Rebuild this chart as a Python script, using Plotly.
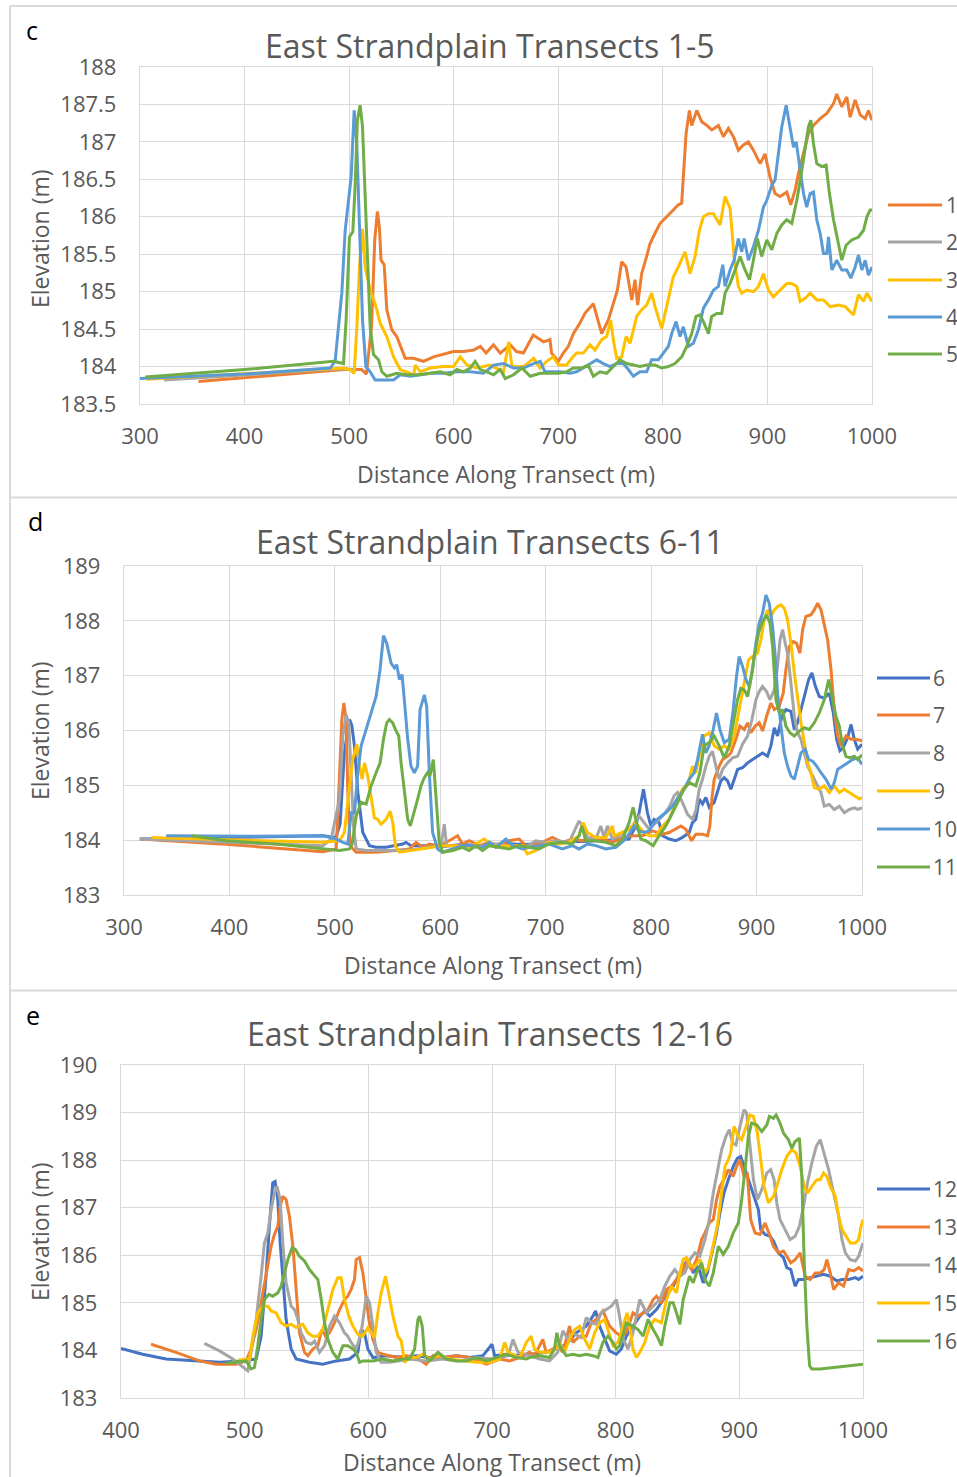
import plotly.graph_objects as go

# ---------------- data: panel c (transects 1-5) ----------------
t1_x = [356, 420, 495, 512, 516.5, 521.5, 524.5, 527, 529, 530.5, 533.5, 536, 540.8, 545.6, 549.4, 553.6, 561.6, 571, 580.7, 590, 599.8, 609.4, 619, 625.4, 631, 638, 644.5, 654, 660, 666.7, 676, 685.9, 692, 693.6, 700, 704.8, 709.6, 714.4, 720.7, 725.5, 733.5, 741.5, 747.8, 752.6, 756.5, 760.6, 764.8, 770.3, 773.4, 775.9, 779.7, 784.5, 787.7, 792.5, 797.3, 803.7, 810, 814.8, 818, 820.3, 822.2, 825.4, 827.6, 832.4, 837.2, 842, 846.8, 853.1, 857.9, 862.7, 867.5, 872.2, 877, 881.8, 886.6, 893, 897.7, 902.5, 907.3, 912.1, 918.5, 922.3, 926.5, 929.7, 934.4, 939.2, 944, 950.4, 956.8, 963.2, 966.3, 971.1, 975.9, 979.1, 983.9, 988.7, 993.5, 996.6, 1000]
t1_y = [183.80, 183.87, 183.96, 183.96, 183.90, 184.55, 185.70, 186.07, 185.85, 185.42, 185.36, 184.76, 184.49, 184.40, 184.27, 184.11, 184.11, 184.07, 184.13, 184.16, 184.20, 184.20, 184.22, 184.27, 184.18, 184.29, 184.18, 184.29, 184.20, 184.18, 184.42, 184.33, 184.36, 184.18, 184.07, 184.18, 184.27, 184.44, 184.58, 184.71, 184.84, 184.44, 184.62, 184.84, 185.02, 185.40, 185.33, 184.89, 185.16, 184.82, 185.24, 185.47, 185.64, 185.78, 185.91, 186.00, 186.09, 186.16, 186.18, 186.76, 187.11, 187.42, 187.22, 187.42, 187.27, 187.22, 187.16, 187.22, 187.07, 187.18, 187.07, 186.89, 186.96, 187.00, 186.89, 186.71, 186.84, 186.53, 186.31, 186.27, 186.33, 186.16, 186.36, 186.58, 186.84, 187.11, 187.22, 187.31, 187.38, 187.51, 187.64, 187.47, 187.60, 187.33, 187.56, 187.36, 187.31, 187.42, 187.29]

t2_x = [323, 400, 490, 505]
t2_y = [183.82, 183.89, 183.97, 183.96]

t3_x = [306, 400, 494.6, 501, 504.8, 507.4, 509.9, 512.8, 515.3, 520.1, 524.9, 529.7, 536, 542.4, 548.8, 558.4, 561.6, 563.2, 568, 577.5, 590.3, 599.8, 606.2, 612.6, 622.2, 634.9, 647.7, 652.5, 655.7, 666.9, 676.5, 682.5, 689, 695.2, 700, 708, 712.8, 717.5, 723.9, 730.3, 735.1, 741.5, 746.3, 750.1, 752.6, 755.8, 760.6, 764.8, 768.6, 771.8, 775, 779.7, 784.5, 789.3, 792.5, 798.9, 803, 806.9, 810, 814.8, 821.2, 826, 830.8, 834.9, 838.8, 843.6, 848.4, 854.7, 859.5, 864.3, 868.1, 872.2, 875.4, 880.2, 886.6, 891.4, 896.2, 901, 905.7, 912.1, 918.5, 923.3, 928.1, 931.3, 936.1, 940.8, 947.2, 953.6, 960, 967.9, 974.4, 982.3, 987.1, 991.9, 995.1, 1000]
t3_y = [183.83, 183.90, 183.98, 183.96, 183.91, 184.53, 185.33, 185.84, 185.33, 185.02, 184.84, 184.58, 184.40, 184.13, 183.96, 183.91, 183.87, 184.02, 183.93, 183.98, 184.00, 184.00, 184.13, 184.02, 183.98, 184.02, 183.93, 184.33, 184.00, 184.00, 184.11, 183.98, 184.07, 184.13, 184.02, 184.02, 184.11, 184.18, 184.18, 184.29, 184.22, 184.36, 184.40, 184.62, 184.36, 184.11, 184.13, 184.40, 184.31, 184.49, 184.67, 184.76, 184.82, 184.98, 184.80, 184.51, 184.76, 184.98, 185.20, 185.33, 185.53, 185.24, 185.47, 185.82, 186.00, 186.04, 186.04, 185.89, 186.27, 186.11, 185.47, 185.07, 184.98, 185.02, 185.00, 185.07, 185.24, 185.02, 184.93, 185.02, 185.11, 185.11, 185.07, 184.87, 184.91, 184.98, 184.89, 184.89, 184.80, 184.82, 184.80, 184.69, 184.96, 184.87, 184.98, 184.87]

t4_x = [300, 400, 481.8, 486.6, 489.8, 493, 496.2, 499.4, 501.9, 504.8, 507.3, 509.9, 512.8, 516, 520.1, 524.9, 532.9, 542.5, 548.8, 558.4, 568, 577.5, 590.3, 603, 615.8, 628.5, 638.1, 647.7, 657.2, 666.8, 676.4, 682.8, 687.2, 695.2, 701.6, 711.2, 717.5, 723.9, 730.3, 736.7, 743.1, 749.5, 755.8, 762.2, 767, 771.8, 778.1, 784.5, 789.3, 795.7, 800.5, 805.3, 808.5, 812.6, 816.4, 819.6, 824.4, 829.2, 834, 838.8, 843.6, 848.4, 853.1, 857.3, 859.5, 864.3, 868.1, 872.2, 875.4, 877.7, 881.8, 886.6, 891.4, 896.2, 899.4, 904.2, 907.3, 910.5, 913.7, 917.9, 921.7, 924.9, 927.5, 931.3, 934.5, 937.6, 940.8, 944, 947.2, 950.4, 953.6, 956.8, 958.4, 961.6, 966.3, 971.1, 975.9, 979.7, 983.9, 987.1, 990.3, 993.5, 996.6, 1000]
t4_y = [183.84, 183.90, 183.98, 184.07, 184.53, 184.98, 185.82, 186.22, 186.53, 187.42, 186.98, 185.87, 184.62, 184.00, 183.93, 183.82, 183.82, 183.82, 183.89, 183.87, 183.89, 183.91, 183.91, 183.93, 183.93, 183.91, 184.02, 184.04, 183.98, 183.98, 184.04, 184.07, 183.93, 183.93, 183.93, 183.91, 183.93, 183.98, 184.04, 184.09, 184.04, 184.00, 184.04, 184.04, 183.96, 183.87, 183.93, 183.93, 184.09, 184.09, 184.18, 184.27, 184.44, 184.60, 184.40, 184.53, 184.27, 184.31, 184.49, 184.78, 184.89, 185.02, 185.07, 185.36, 185.07, 185.29, 185.42, 185.71, 185.53, 185.71, 185.42, 185.60, 185.82, 186.13, 186.22, 186.42, 186.49, 186.89, 187.20, 187.49, 187.20, 186.93, 187.00, 186.62, 186.31, 186.13, 186.31, 186.33, 185.96, 185.78, 185.51, 185.51, 185.73, 185.29, 185.42, 185.29, 185.29, 185.18, 185.33, 185.49, 185.29, 185.42, 185.22, 185.33]

t5_x = [305, 400, 485, 494.6, 497.1, 500.3, 503.5, 505.7, 507.9, 510.5, 512.8, 515.3, 517.5, 520.1, 523.3, 528.1, 531.3, 536, 545.6, 555.2, 568, 577.5, 587.1, 596.6, 603, 609.4, 615.8, 620.5, 625.4, 631.7, 638.1, 644.5, 649.3, 657.2, 665.2, 673.2, 682.8, 690.4, 700, 708, 714.4, 722.3, 728.7, 733.5, 739.9, 746.3, 752.6, 759, 765.4, 771.8, 778.1, 784.5, 792.5, 798.9, 805.3, 811.6, 818, 822.8, 827.6, 831.7, 835.6, 839.4, 843.6, 846.7, 851.5, 856.3, 859.5, 864.3, 869.1, 873.8, 878.6, 882.8, 886.6, 890.4, 894.5, 899.4, 904.2, 909, 913.7, 918.5, 923.3, 928.1, 931.9, 936.1, 939.2, 941.5, 944, 947.2, 952, 956.1, 959.3, 963.2, 966.3, 971.1, 975.2, 980.7, 987.1, 991.9, 995.1, 998.2, 1000]
t5_y = [183.86, 183.96, 184.07, 184.04, 184.62, 185.73, 185.80, 186.40, 187.29, 187.49, 187.20, 186.22, 185.33, 184.53, 184.16, 184.09, 183.93, 183.87, 183.91, 183.89, 183.89, 183.91, 183.93, 183.89, 183.96, 183.93, 183.98, 184.07, 183.96, 183.93, 183.89, 183.96, 183.84, 183.89, 183.98, 183.87, 183.91, 183.91, 183.91, 183.93, 183.98, 183.98, 184.02, 183.87, 183.93, 183.91, 184.00, 184.09, 184.04, 184.02, 184.00, 184.02, 184.02, 183.98, 184.00, 184.04, 184.13, 184.27, 184.44, 184.67, 184.69, 184.58, 184.44, 184.67, 184.71, 184.71, 184.98, 185.11, 185.29, 185.47, 185.29, 185.16, 185.42, 185.71, 185.47, 185.69, 185.56, 185.78, 185.89, 185.96, 185.91, 186.22, 186.53, 186.89, 187.20, 187.29, 186.98, 186.71, 186.67, 186.69, 186.31, 185.96, 185.73, 185.42, 185.62, 185.69, 185.73, 185.82, 186.00, 186.09, 186.09]

# ---------------- data: panel d (transects 6-11) ----------------
t6_x = [315, 400, 488.6, 501, 505, 509, 513.9, 516, 518.6, 521.8, 526.5, 532.8, 539, 548.6, 558, 564.4, 567.5, 572.2, 580, 589.6, 600, 620, 640, 660, 680, 700, 720, 740, 760, 779.1, 785.4, 788.6, 792.7, 796.5, 799.7, 802.8, 807.6, 810.8, 817.1, 823.4, 829.7, 836.1, 839.2, 842.4, 845.6, 848.7, 851.9, 855.1, 859.8, 863, 866.1, 869.3, 872.5, 875.6, 878.8, 882, 886.7, 891.5, 896.2, 901, 905.7, 910.4, 913.6, 916.8, 919.9, 924, 927.8, 932.5, 935.8, 938.9, 942.1, 945.3, 949.4, 952.5, 955.7, 959.5, 964.2, 969, 972.8, 975.9, 979.1, 982.3, 986.4, 989.6, 992.7, 995.9, 1000]
t6_y = [184.02, 184.05, 184.08, 184.05, 184.30, 185.60, 186.20, 186.10, 185.72, 184.87, 184.14, 183.90, 183.87, 183.87, 183.90, 183.93, 183.96, 183.90, 183.90, 183.90, 183.88, 183.92, 183.90, 183.94, 183.92, 183.95, 183.97, 183.98, 184.00, 184.02, 184.26, 184.50, 184.93, 184.50, 184.26, 184.38, 184.32, 184.08, 184.02, 183.99, 184.05, 184.14, 184.32, 184.38, 184.75, 184.66, 184.78, 184.60, 184.69, 184.87, 185.08, 185.14, 185.08, 184.93, 185.11, 185.29, 185.32, 185.41, 185.47, 185.53, 185.59, 185.53, 185.72, 186.05, 185.90, 186.26, 186.38, 186.35, 186.02, 186.14, 186.38, 186.65, 186.93, 187.05, 186.81, 186.62, 186.59, 186.68, 186.32, 185.84, 185.63, 185.69, 185.87, 186.11, 185.84, 185.66, 185.75]

t7_x = [315, 400, 488.6, 501.3, 504.4, 506.6, 508.5, 510.7, 512.3, 514.5, 520.2, 539, 558, 570.7, 577, 583.3, 589.6, 599, 608.5, 616.4, 621.1, 627.5, 637, 646.4, 655.8, 665.3, 674.8, 681, 690.5, 696.8, 706.3, 715.8, 725.3, 734.8, 744.3, 753.8, 763.3, 772.8, 782.3, 791.8, 801.3, 810.8, 817.1, 823.4, 828.2, 832.9, 836.1, 838.3, 842.4, 848.7, 853.5, 855.7, 857.6, 859.8, 864.6, 867.7, 872.5, 875.6, 880.4, 884.2, 888.3, 891.5, 894.6, 898.7, 902.5, 905.7, 909.5, 913.6, 916.8, 921.5, 925.3, 927.8, 931, 934.8, 937.9, 941.1, 943.7, 946.8, 951.6, 954.7, 957.9, 961.1, 964.2, 967.4, 970.6, 973.7, 976.9, 980, 984.8, 989.6, 994.3, 1000]
t7_y = [184.02, 183.92, 183.79, 183.84, 185.17, 186.20, 186.50, 186.20, 184.87, 183.90, 183.78, 183.78, 183.81, 183.84, 183.96, 183.87, 183.93, 183.90, 183.99, 184.08, 183.93, 183.99, 183.90, 183.96, 183.90, 183.99, 184.02, 183.90, 183.93, 183.96, 184.05, 183.96, 184.02, 183.99, 184.05, 184.02, 183.96, 184.05, 184.08, 184.08, 184.17, 184.11, 184.14, 184.20, 184.26, 184.20, 184.08, 183.99, 184.11, 184.11, 184.08, 184.26, 184.75, 185.11, 185.35, 185.47, 185.53, 185.59, 185.84, 186.08, 186.02, 186.14, 185.96, 186.08, 186.14, 185.99, 186.26, 186.50, 186.38, 186.44, 186.68, 187.11, 187.53, 187.62, 187.59, 187.41, 187.84, 188.08, 188.11, 188.20, 188.32, 188.20, 187.93, 187.65, 187.11, 186.38, 185.90, 185.72, 185.90, 185.84, 185.84, 185.81]

t8_x = [315, 400, 488.6, 496.5, 501.3, 504.4, 507.6, 510.7, 513.2, 515.5, 517.7, 520.2, 529.7, 554.9, 570.7, 589.6, 600.6, 603.8, 606, 618, 633.8, 649.5, 665.3, 681, 690.5, 700, 709.5, 722.2, 731.6, 734.8, 739.6, 747.5, 752.2, 755.4, 758.5, 763.3, 769.6, 775.9, 782.3, 788.6, 793.4, 798.1, 804.4, 810.8, 817.1, 821.8, 825, 829.7, 834.5, 839.2, 842.4, 845.6, 848.7, 851.9, 855.1, 858.2, 861.4, 864.6, 867.7, 872.5, 877.2, 882, 886.7, 891.5, 895.6, 899.4, 902.5, 905.7, 909.5, 912.7, 916.8, 919.9, 922.2, 924.7, 927.2, 929.4, 932.6, 935.8, 938.9, 942.1, 945.3, 948.4, 953.2, 957.9, 961.1, 964.2, 969, 973.7, 978.5, 983.2, 988, 992.7, 995.9, 1000]
t8_y = [184.02, 183.96, 183.90, 184.02, 184.44, 184.75, 185.90, 186.29, 186.14, 185.17, 184.26, 183.84, 183.81, 183.81, 183.82, 183.87, 183.90, 184.29, 183.90, 183.90, 183.87, 183.93, 183.90, 183.87, 183.99, 183.96, 183.99, 183.96, 184.35, 184.26, 184.05, 184.02, 184.26, 184.05, 184.26, 184.02, 184.08, 184.17, 184.26, 184.44, 184.32, 184.20, 184.32, 184.44, 184.60, 184.81, 184.87, 184.69, 184.47, 184.38, 184.54, 184.93, 185.11, 185.35, 185.53, 185.62, 185.35, 185.11, 185.29, 185.41, 185.50, 185.53, 185.75, 185.90, 186.20, 186.56, 186.71, 186.80, 186.71, 186.56, 186.74, 187.17, 187.65, 187.84, 187.59, 187.41, 186.86, 186.26, 185.96, 185.84, 185.59, 185.35, 185.17, 184.99, 184.87, 184.62, 184.65, 184.56, 184.62, 184.50, 184.56, 184.59, 184.56, 184.59]

t9_x = [326, 400, 488.6, 504.4, 509.1, 513.2, 517, 520.8, 523.3, 525.9, 528.1, 531.2, 534.4, 537.5, 540.7, 543.8, 548.6, 552.4, 554.9, 557.4, 561.2, 570.7, 580.1, 589.6, 602.2, 614.8, 627.4, 633.8, 641.6, 649.5, 665.3, 677.9, 682.6, 690.5, 696.8, 703.2, 712.7, 722.2, 731.6, 735.4, 739.6, 747.5, 757, 763.3, 764.9, 772.8, 779.1, 785.4, 791.8, 798.1, 804.4, 810.8, 817.1, 823.4, 829.7, 835.4, 839.2, 842.4, 845.6, 850.3, 855.1, 859.8, 864.6, 869.3, 874.1, 878.8, 883.5, 888.3, 892.4, 896.2, 900.9, 904.1, 907.3, 910.4, 913.6, 916.8, 919.9, 923.1, 926.3, 929.4, 932.6, 935.8, 938.9, 942.1, 945.3, 948.4, 951.6, 954.7, 959.5, 964.2, 969, 973.7, 978.5, 983.2, 988, 992.7, 997.5, 1000]
t9_y = [184.05, 184.01, 183.96, 183.99, 184.14, 184.87, 185.47, 185.75, 185.35, 185.11, 185.41, 185.17, 184.75, 184.41, 184.38, 184.29, 184.38, 184.53, 184.32, 183.90, 183.78, 183.81, 183.84, 183.87, 183.90, 183.90, 183.87, 183.93, 184.02, 183.90, 183.90, 183.90, 183.75, 183.81, 183.90, 183.96, 183.93, 183.96, 184.08, 184.32, 184.14, 184.05, 184.05, 184.26, 184.08, 184.14, 184.20, 184.32, 184.17, 184.08, 184.08, 184.26, 184.38, 184.69, 184.93, 185.05, 185.35, 185.23, 185.53, 185.90, 185.96, 185.72, 185.66, 185.72, 185.66, 185.90, 186.38, 186.80, 187.29, 187.35, 187.41, 187.65, 188.02, 188.20, 188.08, 188.20, 188.26, 188.29, 188.23, 188.02, 187.59, 187.05, 186.56, 186.14, 185.78, 185.41, 185.23, 184.96, 184.93, 184.99, 184.87, 184.99, 184.87, 184.93, 184.87, 184.81, 184.75, 184.78]

t10_x = [340, 420, 488.6, 501.3, 507.6, 512.3, 515.5, 518.6, 521.8, 524.9, 529.7, 534.4, 539.1, 542.9, 546.1, 549.2, 553.3, 556.5, 558.7, 561.2, 563.7, 565.9, 569.1, 572.2, 575.4, 578.5, 580.8, 584.9, 587.1, 589.6, 592.7, 597.5, 602.2, 611.7, 621.1, 630.6, 640.1, 646.4, 652.7, 662.2, 668.5, 678, 684.2, 693.7, 703.2, 715.8, 725.3, 731.6, 739.6, 747.5, 757, 766.5, 775.9, 783.9, 788.6, 793.4, 798.1, 802.8, 807.6, 813.9, 820.3, 826.6, 831.3, 836.1, 840.8, 844, 846.2, 848.7, 851.9, 855.1, 858.9, 862, 865.2, 869.3, 874.1, 877.8, 881, 883.5, 886.7, 889.9, 893, 896.2, 899.4, 902.5, 905.7, 908.9, 912, 915.2, 917.7, 919.9, 923.1, 926.3, 929.4, 932.6, 935.8, 938.9, 942.1, 946.2, 949.4, 953.2, 957, 961.1, 965.8, 970.6, 973.7, 976.9, 981.6, 986.4, 991.1, 995.9, 1000]
t10_y = [184.08, 184.07, 184.08, 184.02, 183.96, 183.93, 184.50, 184.50, 185.23, 185.72, 186.02, 186.32, 186.62, 187.11, 187.73, 187.59, 187.23, 187.14, 187.20, 186.93, 187.02, 186.56, 185.84, 185.35, 185.23, 185.35, 186.38, 186.65, 186.44, 185.23, 184.14, 183.84, 183.78, 183.84, 183.90, 183.90, 183.87, 183.96, 183.87, 184.02, 183.90, 183.84, 183.87, 183.90, 183.93, 183.84, 183.90, 183.84, 183.93, 183.90, 183.84, 183.87, 184.02, 184.26, 184.17, 184.14, 184.17, 184.32, 184.41, 184.50, 184.62, 184.81, 184.93, 185.11, 185.23, 185.47, 185.72, 185.93, 185.59, 185.72, 186.02, 186.32, 186.02, 185.78, 185.84, 186.38, 186.99, 187.35, 187.17, 186.93, 186.80, 187.11, 187.59, 187.96, 188.14, 188.47, 188.32, 187.90, 187.35, 186.68, 186.08, 185.59, 185.35, 185.17, 185.11, 185.35, 185.59, 185.66, 185.47, 185.44, 185.35, 185.23, 185.11, 184.93, 185.05, 185.29, 185.35, 185.41, 185.47, 185.50, 185.38]

t11_x = [364, 397, 444.5, 488.6, 504.4, 513.9, 516.4, 520.2, 524.9, 529.7, 534.4, 539.1, 542.9, 546.1, 549.2, 551.7, 554.9, 557.4, 560.6, 562.8, 565.9, 569.1, 571.6, 574.4, 578.5, 581.7, 584.8, 588, 590.2, 593.4, 595.9, 599, 602.2, 611.7, 621.1, 627.4, 633.8, 640.1, 646.4, 655.8, 665.3, 674.8, 684.2, 693.7, 703.2, 715.8, 725.3, 731.6, 734.2, 738, 747.5, 757, 766.5, 772.8, 779.1, 782.9, 786.1, 790.2, 794.9, 801.9, 807.6, 813.9, 820.3, 826.6, 831.3, 836.1, 842.4, 846.2, 850.3, 855.1, 859.8, 864.6, 869.3, 874.1, 877.8, 881.9, 885.1, 888.3, 891.5, 894.6, 897.8, 901.9, 905.7, 909.5, 912.7, 915.2, 918.4, 921.5, 924.7, 927.8, 931.6, 935.8, 940.5, 945.3, 950, 954.7, 959.5, 964.2, 968.4, 972.2, 975.3, 978.5, 981.6, 984.8, 988.6, 992.7, 995.9, 1000]
t11_y = [184.08, 183.99, 183.93, 183.84, 183.81, 183.84, 183.93, 184.44, 184.69, 184.66, 184.99, 185.23, 185.41, 185.84, 186.14, 186.20, 186.14, 186.02, 185.90, 185.41, 184.87, 184.38, 184.26, 184.44, 184.75, 184.99, 185.14, 185.23, 185.17, 185.47, 184.87, 183.96, 183.78, 183.81, 183.87, 183.81, 183.90, 183.81, 183.90, 183.87, 183.84, 183.90, 183.87, 183.84, 183.93, 183.96, 183.93, 184.08, 184.26, 183.99, 183.99, 183.96, 183.90, 184.02, 184.32, 184.60, 184.32, 184.02, 183.99, 183.90, 184.08, 184.26, 184.50, 184.75, 184.93, 185.05, 184.99, 185.23, 185.72, 185.78, 185.90, 185.72, 185.50, 185.72, 186.14, 186.56, 186.77, 186.74, 186.62, 186.93, 187.35, 187.78, 187.99, 188.11, 187.96, 187.53, 186.56, 186.32, 186.38, 186.08, 185.96, 185.90, 185.99, 186.05, 186.02, 186.14, 186.32, 186.56, 186.93, 186.56, 186.26, 186.08, 185.72, 185.53, 185.50, 185.53, 185.47, 185.56]

# ---------------- data: panel e (transects 12-16) ----------------
t12_x = [400, 417.5, 436.4, 458, 479.6, 498.5, 509.3, 513.3, 517.3, 520, 522.7, 524.6, 526.8, 528.7, 530.8, 533.5, 537.6, 541.6, 552.4, 563.2, 574, 584.8, 591.5, 594.2, 596.9, 599.6, 603.7, 614.5, 628, 638.7, 649.5, 660.3, 671.1, 681.9, 692.7, 700, 702.1, 711.6, 722.4, 733, 743.8, 751.9, 760, 768.1, 776.2, 781.6, 783.8, 787, 791.1, 795.1, 800.5, 804.6, 808.6, 814, 819.5, 823.5, 827.6, 833, 838.4, 842.4, 846.5, 850.5, 854.6, 858.6, 862.7, 866.8, 870.8, 874.1, 877.6, 881.6, 884.3, 887.6, 891.1, 895.1, 898.4, 901.1, 903.8, 907.3, 910, 912.7, 915.4, 917.3, 920.8, 924.9, 927.6, 931.6, 935.7, 938.4, 941.6, 945.1, 947.8, 951.9, 957.3, 962.7, 968.1, 973.5, 978.9, 983, 988.4, 993.8, 996.5, 1000]
t12_y = [184.04, 183.92, 183.82, 183.78, 183.75, 183.78, 183.82, 184.30, 185.56, 186.61, 187.52, 187.55, 187.17, 186.26, 185.49, 184.65, 184.03, 183.82, 183.75, 183.71, 183.78, 183.82, 183.96, 184.44, 184.37, 184.03, 183.85, 183.89, 183.85, 183.89, 183.85, 183.85, 183.89, 183.85, 183.89, 184.13, 183.89, 183.92, 183.89, 183.92, 183.96, 184.03, 184.13, 184.37, 184.51, 184.72, 184.83, 184.51, 184.24, 183.99, 183.92, 184.03, 184.30, 184.51, 184.72, 184.83, 184.72, 184.86, 185.07, 185.21, 185.35, 185.56, 185.77, 185.91, 185.63, 185.77, 185.42, 185.63, 186.05, 186.47, 186.89, 187.31, 187.59, 187.87, 188.04, 188.08, 187.87, 187.59, 187.38, 187.17, 186.96, 186.54, 186.44, 186.40, 186.30, 186.05, 185.95, 185.74, 185.70, 185.35, 185.49, 185.49, 185.53, 185.56, 185.60, 185.56, 185.46, 185.49, 185.49, 185.53, 185.49, 185.56]

t13_x = [424.3, 444.5, 463.4, 476.9, 493.1, 501.2, 505.2, 509.3, 513.3, 517.3, 521.4, 524.1, 526.8, 528.7, 530.8, 533.5, 536.2, 539, 541.6, 544.3, 548.4, 551.1, 555.1, 559.2, 562.4, 565.4, 568.6, 572.6, 576.7, 580.7, 583.4, 586.1, 588.8, 590.2, 592.9, 595.6, 597.7, 600.4, 603.7, 607.7, 611.8, 617.2, 622.6, 630.6, 638.7, 646.8, 652.2, 660.3, 671.1, 681.9, 695.4, 706.2, 714.3, 722.2, 730.3, 734.3, 741.1, 743.8, 749.2, 753.2, 757.3, 762.7, 765.4, 770.8, 776.2, 780.3, 784.3, 789.7, 795.1, 800.5, 804.6, 808.6, 814, 818.1, 822.2, 826.2, 830.3, 833, 837, 841.1, 845.1, 849.2, 853.2, 857.3, 861.4, 865.4, 869.5, 872.2, 875.7, 878.9, 881.6, 884.3, 887.6, 891.1, 895.1, 897.8, 900.5, 903.8, 906.5, 909.2, 912.7, 916.8, 920.8, 924.9, 927.6, 931.6, 935.7, 938.4, 941.6, 945.1, 949.2, 953.2, 957.3, 961.4, 965.4, 968.6, 970.8, 973.5, 976.2, 980.3, 984.3, 988.4, 992.4, 996.5, 1000]
t13_y = [184.13, 183.96, 183.78, 183.71, 183.71, 183.78, 184.03, 184.44, 185.00, 185.56, 186.19, 186.44, 186.61, 187.03, 187.24, 187.17, 186.82, 186.19, 185.21, 184.37, 183.96, 183.89, 184.03, 184.10, 184.44, 184.30, 184.37, 184.58, 184.86, 185.07, 185.14, 185.28, 185.49, 185.91, 185.95, 185.63, 185.21, 184.65, 184.23, 183.96, 183.92, 183.89, 183.85, 183.89, 183.85, 183.71, 183.89, 183.85, 183.89, 183.85, 183.71, 183.82, 183.78, 183.85, 183.96, 183.89, 184.23, 183.96, 184.03, 184.10, 183.96, 184.51, 184.17, 184.30, 184.30, 184.58, 184.65, 184.83, 184.51, 184.37, 184.30, 184.37, 184.79, 184.72, 184.79, 184.86, 185.07, 185.14, 185.00, 185.28, 185.35, 185.49, 185.63, 185.84, 185.70, 185.91, 186.33, 186.47, 186.68, 186.75, 187.17, 187.45, 187.59, 187.80, 187.66, 187.87, 188.01, 187.66, 187.70, 186.75, 186.47, 186.44, 186.68, 186.40, 186.19, 186.05, 186.09, 185.98, 185.84, 185.91, 186.05, 185.56, 185.49, 185.63, 185.63, 185.70, 185.91, 185.63, 185.28, 185.42, 185.35, 185.70, 185.67, 185.74, 185.67]

t14_x = [467.4, 479.6, 490.4, 498.5, 502.5, 505.2, 509.3, 513.3, 516, 518.7, 521.4, 524.1, 526.2, 528.7, 530.8, 533.5, 537.6, 540.3, 543, 545.7, 549.7, 553.8, 556.5, 560.5, 564.6, 568.6, 572.6, 576.7, 580.7, 583.4, 586.1, 590.2, 594.2, 598.3, 601, 603.7, 606.4, 610.4, 617.2, 625.2, 633.3, 646.8, 660.3, 673.8, 687.3, 700.8, 713, 717, 721, 730.3, 738.4, 746.5, 753.2, 757.3, 761.4, 765.4, 772.2, 776.2, 780.3, 784.3, 788.4, 792.4, 796.5, 800.5, 802.7, 806, 810, 814, 819.5, 824.9, 830.3, 835.7, 839.7, 843.8, 847.8, 851.9, 855.9, 860, 864.1, 868.1, 872.2, 875.7, 878.9, 882.2, 885.7, 889.2, 891.9, 894.6, 897.3, 900.5, 903.8, 905.9, 908.6, 911.4, 914.6, 918.1, 922.2, 925.4, 928.1, 930.3, 932.9, 937, 941.1, 945.1, 948.6, 951.9, 955.1, 958.6, 962.2, 965.4, 968.6, 972.2, 976.2, 980.3, 983, 985.7, 989.7, 993.8, 996.5, 1000]
t14_y = [184.15, 183.99, 183.82, 183.64, 183.57, 183.96, 184.65, 185.56, 186.26, 186.47, 186.96, 187.31, 187.45, 187.17, 186.26, 185.42, 184.93, 184.86, 184.65, 184.37, 184.17, 184.13, 184.20, 183.96, 184.10, 184.51, 184.72, 184.58, 184.37, 184.30, 184.17, 184.03, 184.37, 185.14, 185.00, 184.51, 183.96, 183.75, 183.75, 183.78, 183.82, 183.78, 183.82, 183.78, 183.85, 183.82, 183.89, 184.23, 183.96, 183.89, 183.82, 183.78, 183.96, 184.41, 184.24, 184.37, 184.27, 184.69, 184.58, 184.55, 184.79, 184.86, 184.93, 185.07, 184.79, 184.24, 184.03, 184.37, 185.07, 184.79, 184.93, 185.07, 185.35, 185.56, 185.70, 185.56, 185.63, 185.91, 186.05, 185.98, 186.33, 186.75, 187.31, 187.73, 188.22, 188.50, 188.64, 188.36, 188.32, 188.71, 189.06, 188.99, 188.29, 187.59, 187.17, 187.38, 187.73, 187.80, 187.59, 187.10, 186.75, 186.54, 186.33, 186.40, 186.61, 187.03, 187.52, 187.94, 188.29, 188.43, 188.15, 187.80, 187.31, 186.82, 186.33, 186.05, 185.91, 185.88, 185.98, 186.26]

t15_x = [495, 503.9, 506.6, 510.6, 514.6, 518.7, 521.4, 525.4, 529.5, 533.5, 537.6, 541.6, 547, 551.1, 555.1, 559.2, 563.2, 567.3, 571.3, 575.3, 578, 580.7, 584.2, 587.5, 591.5, 595.6, 599.6, 602.3, 605, 607.7, 610.4, 613.9, 616.6, 619.9, 623.9, 626.6, 629.3, 633.3, 638.7, 644.1, 649.5, 657.6, 665.7, 676.5, 687.3, 698.1, 706.2, 710.2, 713, 722.4, 727.8, 731.6, 734.3, 738.4, 746.5, 751.9, 754.6, 758.6, 762.7, 766.8, 770.8, 774.9, 779, 783, 787, 791.1, 793.8, 797.8, 801.9, 805.9, 809.2, 811.4, 814, 816.8, 819.5, 823.5, 827.6, 831.6, 837, 841.1, 845.1, 849.2, 851.9, 854.6, 857.3, 860.5, 864.1, 868.1, 872.2, 874.9, 878.9, 882.2, 885.7, 888.4, 891.1, 893, 895.7, 899.2, 901.9, 905.4, 908.6, 911.4, 914.6, 917.3, 920, 923.5, 927.6, 930.3, 934.3, 938.4, 942.4, 945.9, 949.2, 952.4, 955.1, 958.6, 962.7, 965.4, 968.1, 970.8, 973.5, 977.6, 980.3, 983, 986.5, 989.7, 993.8, 996.5, 998.4, 1000]
t15_y = [183.80, 183.82, 184.30, 184.79, 184.93, 184.93, 184.83, 184.79, 184.58, 184.51, 184.55, 184.48, 184.55, 184.37, 184.30, 184.30, 184.44, 184.86, 185.28, 185.53, 185.53, 185.07, 184.72, 184.51, 184.34, 184.30, 184.48, 184.37, 184.27, 184.79, 185.21, 185.56, 185.21, 184.72, 184.30, 184.20, 183.75, 183.85, 183.85, 183.92, 183.82, 183.89, 183.82, 183.78, 183.75, 183.75, 183.82, 184.17, 183.96, 183.85, 184.17, 184.30, 184.03, 183.96, 183.96, 184.03, 184.17, 183.96, 184.24, 184.44, 184.51, 184.24, 184.03, 184.37, 184.58, 184.65, 184.44, 184.10, 184.17, 184.51, 184.79, 184.51, 184.03, 183.85, 183.96, 184.17, 184.51, 184.65, 184.58, 185.07, 185.35, 185.21, 185.63, 185.91, 185.95, 185.77, 185.77, 185.91, 185.63, 185.74, 186.19, 186.61, 187.31, 187.87, 188.01, 188.15, 188.71, 188.50, 188.43, 188.71, 188.95, 188.92, 188.57, 188.01, 187.45, 187.10, 187.24, 187.45, 187.80, 188.08, 188.22, 188.15, 187.87, 187.45, 187.31, 187.45, 187.59, 187.59, 187.73, 187.66, 187.45, 187.24, 186.82, 186.54, 186.40, 186.26, 186.26, 186.33, 186.61, 186.75]

t16_x = [485, 501.2, 505.2, 507.9, 510.6, 513.3, 516, 519.5, 522.7, 526.8, 529.5, 532.2, 534.9, 538.4, 541.1, 544.3, 548.4, 552.4, 556.5, 559.2, 561.9, 564.6, 567.3, 571.3, 575.3, 578, 579.4, 583.4, 587.5, 590.2, 592.9, 595.6, 603.7, 611.8, 619.9, 628, 633.3, 637.4, 640.1, 641.4, 643.6, 645.5, 649.5, 656.3, 663, 671.1, 679.2, 687.3, 695.4, 703.5, 711.6, 719.7, 727.8, 730.3, 738.4, 746.5, 750.5, 752.4, 754.6, 760, 765.4, 770.8, 776.2, 781.6, 785.7, 789.7, 793.8, 797.8, 800.5, 803.2, 808.6, 814, 818.1, 822.2, 826.2, 830.3, 833.5, 837, 839.7, 843.8, 846.5, 849.2, 851.9, 854.6, 857.3, 859.7, 862.7, 865.4, 869.5, 872.2, 875.7, 878.9, 883, 887, 891.1, 895.1, 899.2, 901.9, 904.6, 907.3, 910, 914.1, 918.1, 922.2, 924.3, 927.6, 929.7, 932.4, 935.7, 939.7, 942.4, 945.1, 948.6, 950.5, 952.4, 954.6, 956.8, 958.6, 965.4, 976.2, 987, 1000]
t16_y = [183.73, 183.78, 183.61, 183.64, 184.10, 184.65, 185.07, 185.18, 185.14, 185.21, 185.35, 185.63, 185.91, 186.16, 186.12, 185.98, 185.88, 185.70, 185.56, 185.49, 185.07, 184.58, 184.23, 183.96, 183.82, 184.03, 184.10, 184.10, 184.03, 183.96, 183.75, 183.78, 183.78, 183.82, 183.78, 183.82, 183.82, 184.03, 184.65, 184.72, 184.51, 183.89, 183.78, 183.96, 183.82, 183.78, 183.78, 183.85, 183.78, 183.85, 183.92, 183.85, 183.82, 183.85, 183.89, 183.85, 184.03, 184.37, 184.10, 183.89, 183.92, 183.89, 183.92, 183.89, 183.85, 184.17, 184.30, 184.17, 184.03, 184.10, 184.58, 184.51, 184.44, 184.30, 184.65, 184.44, 184.30, 184.10, 184.51, 185.00, 185.00, 184.79, 184.55, 185.07, 185.35, 185.56, 185.42, 185.63, 185.84, 185.49, 185.35, 185.63, 186.19, 186.02, 186.19, 186.47, 186.68, 187.17, 187.80, 188.50, 188.78, 188.74, 188.60, 188.74, 188.92, 188.88, 188.95, 188.81, 188.57, 188.43, 188.25, 188.39, 188.46, 187.66, 185.91, 184.51, 183.68, 183.61, 183.61, 183.64, 183.68, 183.71]

# ---------------- labels ----------------
panel_letters = ["c", "d", "e"]
panel_titles = ["East Strandplain Transects 1-5",
                "East Strandplain Transects 6-11",
                "East Strandplain Transects 12-16"]
x_title = "Distance Along Transect (m)"
y_title = "Elevation (m)"

names_c = ["1", "2", "3", "4", "5"]
names_d = ["6", "7", "8", "9", "10", "11"]
names_e = ["12", "13", "14", "15", "16"]

c_ticks_y = [183.5, 184, 184.5, 185, 185.5, 186, 186.5, 187, 187.5, 188]
c_ticks_y_text = ["183.5", "184", "184.5", "185", "185.5", "186", "186.5", "187", "187.5", "188"]
d_ticks_y = [183, 184, 185, 186, 187, 188, 189]
e_ticks_y = [183, 184, 185, 186, 187, 188, 189, 190]
c_ticks_x = [300, 400, 500, 600, 700, 800, 900, 1000]
e_ticks_x = [400, 500, 600, 700, 800, 900, 1000]

# ---------------- styling ----------------
W, H = 957, 1477
ORANGE, GRAY, YELLOW, LBLUE, GREEN, DBLUE = "#ED7D31", "#A5A5A5", "#FFC000", "#5B9BD5", "#70AD47", "#4472C4"
colors_c = [ORANGE, GRAY, YELLOW, LBLUE, GREEN]
colors_d = [DBLUE, ORANGE, GRAY, YELLOW, LBLUE, GREEN]
colors_e = [DBLUE, ORANGE, GRAY, YELLOW, GREEN]
FONT = "Open Sans"
TXT = "#595959"
GRID = "#D9D9D9"
LW = 3
TICK_SIZE = 22
AXT_SIZE = 23
TITLE_SIZE = 32


def fx(p):
    return p / W


def fy(p):
    return 1 - p / H


fig = go.Figure()

series = [
    ("x", "y", [(t1_x, t1_y), (t2_x, t2_y), (t3_x, t3_y), (t4_x, t4_y), (t5_x, t5_y)], names_c, colors_c),
    ("x2", "y2", [(t6_x, t6_y), (t7_x, t7_y), (t8_x, t8_y), (t9_x, t9_y), (t10_x, t10_y), (t11_x, t11_y)], names_d, colors_d),
    ("x3", "y3", [(t12_x, t12_y), (t13_x, t13_y), (t14_x, t14_y), (t15_x, t15_y), (t16_x, t16_y)], names_e, colors_e),
]
for xa, ya, data, names, cols in series:
    for (xs, ys), nm, col in zip(data, names, cols):
        fig.add_trace(go.Scatter(x=xs, y=ys, mode="lines", name=nm, xaxis=xa, yaxis=ya,
                                 line=dict(color=col, width=LW), showlegend=False,
                                 hoverinfo="x+y+name"))

# panel geometry in pixels: (left, right, top, bottom)
panels = [(140, 872, 67, 404), (124, 862, 566, 895), (121, 863, 1065, 1398)]
xranges = [[300, 1000], [300, 1000], [400, 1000]]
yranges = [[183.5, 188], [183, 189], [183, 190]]
xticks = [c_ticks_x, c_ticks_x, e_ticks_x]
yticks = [(c_ticks_y, c_ticks_y_text), (d_ticks_y, [str(v) for v in d_ticks_y]), (e_ticks_y, [str(v) for v in e_ticks_y])]

axis_common = dict(showgrid=True, gridcolor=GRID, gridwidth=1.3, showline=True, linecolor=GRID,
                   linewidth=1.3, mirror=True, zeroline=False, ticks="", automargin=False,
                   tickfont=dict(family=FONT, size=TICK_SIZE, color=TXT), fixedrange=True)
layout = {}
for i, ((l, r, t, b), xr, yr, xt, (yt, ytt)) in enumerate(zip(panels, xranges, yranges, xticks, yticks)):
    sfx = "" if i == 0 else str(i + 1)
    layout["xaxis" + sfx] = dict(axis_common, domain=[fx(l), fx(r)], range=xr, tickvals=xt,
                                 anchor="y" + sfx, ticklabelstandoff=12)
    layout["yaxis" + sfx] = dict(axis_common, domain=[fy(b), fy(t)], range=yr, tickvals=yt, ticktext=ytt,
                                 anchor="x" + sfx, ticklabelstandoff=18)
fig.update_layout(**layout)

annotations = []
shapes = []
# panel letters, titles, axis titles
letter_pos = [(32, 30), (35, 521), (33, 1015)]
title_pos = [(490, 45), (490, 542), (490, 1033)]
xtitle_pos = [(506, 474), (493, 965), (492, 1462)]
ytitle_pos = [(40, 239), (40, 731), (40, 1232)]
for i in range(3):
    annotations.append(dict(text=panel_letters[i], x=fx(letter_pos[i][0]), y=fy(letter_pos[i][1]),
                            xref="paper", yref="paper", showarrow=False, xanchor="center", yanchor="middle",
                            font=dict(family=FONT, size=25, color="#000000")))
    annotations.append(dict(text=panel_titles[i], x=fx(title_pos[i][0]), y=fy(title_pos[i][1]),
                            xref="paper", yref="paper", showarrow=False, xanchor="center", yanchor="middle",
                            font=dict(family=FONT, size=TITLE_SIZE, color=TXT)))
    annotations.append(dict(text=x_title, x=fx(xtitle_pos[i][0]), y=fy(xtitle_pos[i][1]),
                            xref="paper", yref="paper", showarrow=False, xanchor="center", yanchor="middle",
                            font=dict(family=FONT, size=AXT_SIZE, color=TXT)))
    annotations.append(dict(text=y_title, x=fx(ytitle_pos[i][0]), y=fy(ytitle_pos[i][1]),
                            xref="paper", yref="paper", showarrow=False, xanchor="center", yanchor="middle",
                            textangle=-90, font=dict(family=FONT, size=AXT_SIZE, color=TXT)))

# legends (drawn manually to match the long line samples)
legend_specs = [
    (names_c, colors_c, [205, 242, 280, 317, 354], 888, 942, 945),
    (names_d, colors_d, [678, 715, 753, 791, 829, 867], 877, 930, 932),
    (names_e, colors_e, [1189, 1227, 1265, 1303, 1341], 877, 930, 932),
]
for names, cols, ys, x0, x1, xt in legend_specs:
    for nm, col, yy in zip(names, cols, ys):
        shapes.append(dict(type="line", xref="paper", yref="paper", x0=fx(x0), x1=fx(x1), y0=fy(yy), y1=fy(yy),
                           line=dict(color=col, width=LW)))
        annotations.append(dict(text=nm, x=fx(xt), y=fy(yy), xref="paper", yref="paper", showarrow=False,
                                xanchor="left", yanchor="middle", borderpad=0,
                                font=dict(family=FONT, size=21, color=TXT)))

# panel frames
for (x0, y0, x1, y1) in [(10, 6, 10, H), (10, 6, W, 6), (10, 497.5, W, 497.5), (10, 990.5, W, 990.5)]:
    shapes.append(dict(type="line", xref="paper", yref="paper", x0=fx(x0), y0=fy(y0), x1=fx(x1), y1=fy(y1),
                       line=dict(color=GRID, width=2)))

fig.update_layout(width=W, height=H, margin=dict(l=0, r=0, t=0, b=0, pad=0, autoexpand=False),
                  paper_bgcolor="white",
                  plot_bgcolor="white", annotations=annotations, shapes=shapes, showlegend=False,
                  font=dict(family=FONT, color=TXT))
fig.write_html("out.html", config={"displayModeBar": False},
               post_script="document.body.style.margin='0';document.body.style.overflow='hidden';")
